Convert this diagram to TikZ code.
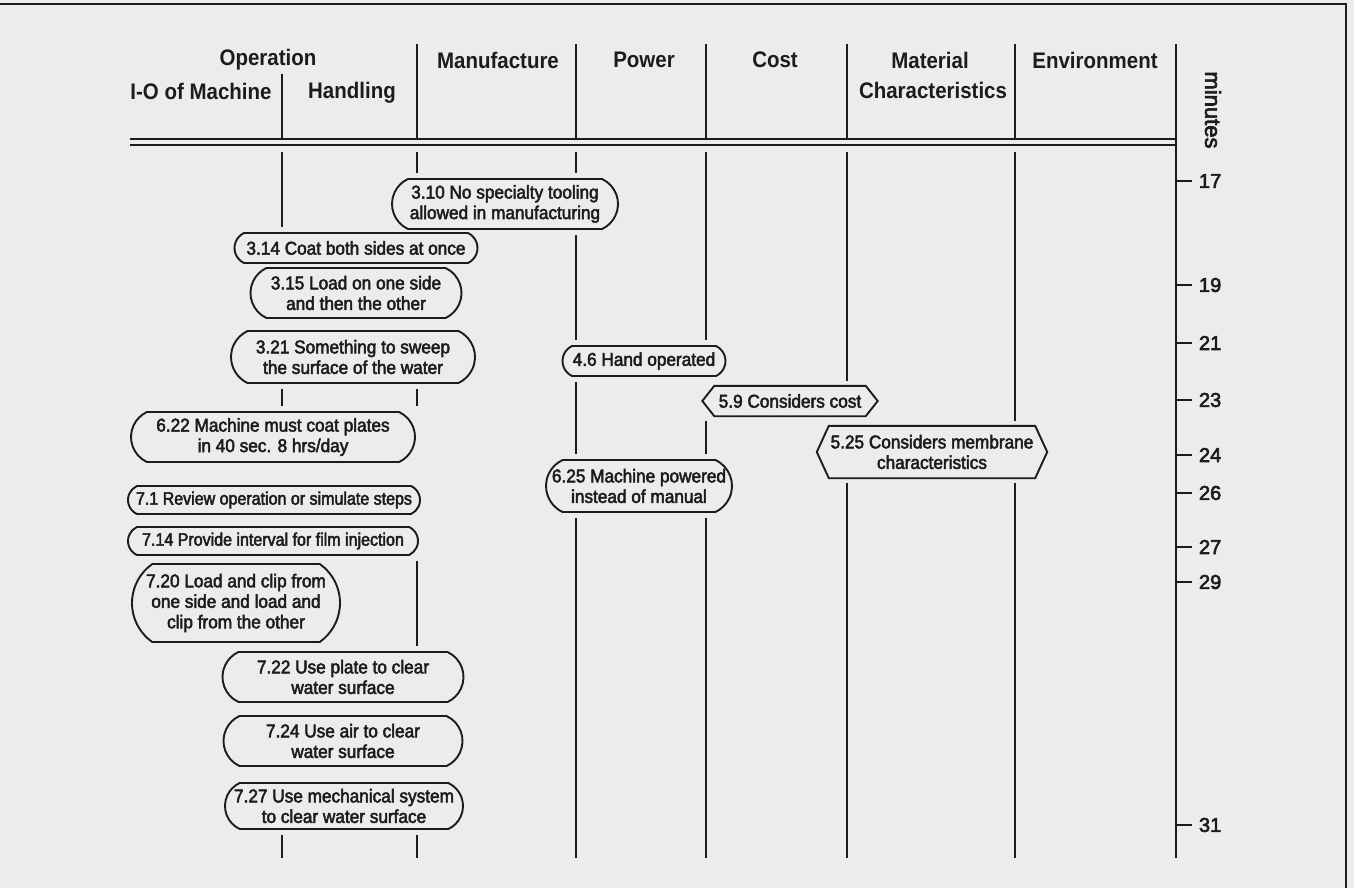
\documentclass[tikz,border=0pt]{standalone}
\usepackage{fontspec}
\setmainfont{Liberation Sans}
\newfontfamily\medfont{Liberation Sans}[FakeBold=2.6, FakeStretch=0.93]
\newfontfamily\narrowfont{Liberation Sans}[FakeBold=2.6, FakeStretch=0.89]
\newfontfamily\headfont{Liberation Sans}[FakeStretch=0.91]
\newfontfamily\numfont{Liberation Sans}[FakeBold=3]
\usetikzlibrary{shapes.misc}
\definecolor{ink}{RGB}{28,28,28}
\definecolor{paper}{RGB}{236,236,234}
\tikzset{
  box/.style={rounded rectangle, rounded rectangle arc length=130, draw=ink, line width=1.9pt,
    font=\medfont\fontsize{18.5}{20.5}\selectfont, align=center, inner sep=0pt, text=ink},
  narrowbox/.style={box, font=\narrowfont\fontsize{18}{20.5}\selectfont, inner xsep=-4pt},
  hexbox/.style={rectangle, inner sep=0pt, font=\medfont\fontsize{18.5}{20.5}\selectfont,
    align=center, text=ink},
  hexline/.style={draw=ink, line width=1.9pt, line join=miter},
  head/.style={font=\headfont\bfseries\fontsize{22.5}{26}\selectfont, text=ink, inner sep=0pt},
  colline/.style={draw=ink, line width=2pt},
  gapline/.style={colline, shorten <=5pt, shorten >=5pt},
  ticklab/.style={font=\numfont\fontsize{20}{22}\selectfont, text=ink, anchor=west, inner sep=0pt},
}
\begin{document}
\begin{tikzpicture}[x=1pt,y=-1pt]
\useasboundingbox (0,0) rectangle (1354,888);
\fill[paper] (0,0) rectangle (1354,888);
% frame
\coordinate (frTL) at (0,4);
\coordinate (frTR) at (1346,4);
\coordinate (frBR) at (1346,888);
\draw[draw=ink, line width=2.6pt] (frTL) -- (frTR) -- (frBR);

% headers
\node[head] (hOp) at (268,60) {Operation};
\node[head] (hMan) at (498,60) {Manufacture};
\node[head] (hPow) at (644,60) {Power};
\node[head] (hCost) at (775,60) {Cost};
\node[head] (hMat) at (930,60) {Material};
\node[head] (hChar) at (933,90) {Characteristics};
\node[head] (hEnv) at (1095,60) {Environment};
\node[head] (hIO) at (201,91) {I-O of Machine};
\node[head] (hHand) at (352,93) {Handling};
\node[font=\numfont\fontsize{22}{24}\selectfont, text=ink, rotate=-90, inner sep=0pt] (hMin) at (1213,110) {minutes};

% header column lines
\coordinate (hA1) at (282,74);  \coordinate (hA2) at (282,138);
\coordinate (hB1) at (417,44);  \coordinate (hB2) at (417,138);
\coordinate (hC1) at (576,44);  \coordinate (hC2) at (576,138);
\coordinate (hD1) at (706,44);  \coordinate (hD2) at (706,138);
\coordinate (hE1) at (847,44);  \coordinate (hE2) at (847,138);
\coordinate (hF1) at (1015,44); \coordinate (hF2) at (1015,138);
\coordinate (hG1) at (1176,44);
\foreach \a in {A,B,C,D,E,F} \draw[colline] (h\a1) -- (h\a2);

% double rule
\coordinate (dl1) at (130,139); \coordinate (dr1) at (1176,139);
\coordinate (dl2) at (130,145); \coordinate (dr2) at (1176,145);
\draw[colline] (dl1) -- (dr1);
\draw[colline] (dl2) -- (dr2);

% time axis
\coordinate (bG) at (1176,858);
\draw[colline] (hG1) -- (bG);
\foreach \t/\y in {17/181,19/285,21/343,23/400,24/455,26/493,27/547,29/582,31/825}{
  \coordinate (tk\t) at (1176,\y);
  \draw[colline] (tk\t) -- ++(16,0) node[ticklab, xshift=6pt] (lab\t) {\t};
}

% boxes
\node[box, minimum width=226, minimum height=50] (n310) at (505,204) {3.10 No specialty tooling\\allowed in manufacturing};
\node[box, minimum width=243, minimum height=30] (n314) at (356,248) {3.14 Coat both sides at once};
\node[box, minimum width=211, minimum height=50] (n315) at (356,293) {3.15 Load on one side\\and then the other};
\node[box, minimum width=244, minimum height=52] (n321) at (353,357) {3.21 Something to sweep\\the surface of the water};
\node[box, minimum width=163, minimum height=30] (n46) at (644,361) {4.6 Hand operated};
\node[hexbox, minimum width=151, minimum height=30] (n59) at (790,401) {5.9 Considers cost};
\node[box, minimum width=284, minimum height=50] (n622) at (273,437) {6.22 Machine must coat plates\\in 40 sec. 8 hrs/day};
\node[hexbox, minimum width=206, minimum height=52] (n525) at (932,452) {5.25 Considers membrane\\characteristics};
\node[box, minimum width=186, minimum height=52] (n625) at (639,486) {6.25 Machine powered\\instead of manual};
\node[narrowbox, minimum width=284, minimum height=28] (n71) at (274,500) {7.1 Review operation or simulate steps};
\node[narrowbox, minimum width=282, minimum height=28] (n714) at (273,541) {7.14 Provide interval for film injection};
\node[box, rounded rectangle arc length=110, minimum width=208, minimum height=78] (n720) at (236,603) {7.20 Load and clip from\\one side and load and\\clip from the other};
\node[box, minimum width=241, minimum height=50] (n722) at (343,677) {7.22 Use plate to clear\\water surface};
\node[box, minimum width=239, minimum height=50] (n724) at (343,741) {7.24 Use air to clear\\water surface};
\node[box, minimum width=238, minimum height=46] (n727) at (344,806) {7.27 Use mechanical system\\to clear water surface};

% hexagon outlines
\draw[hexline] (n59.north west) -- (n59.north east) -- ([xshift=12pt]n59.east) -- (n59.south east) -- (n59.south west) -- ([xshift=-12pt]n59.west) -- cycle;
\draw[hexline] (n525.north west) -- (n525.north east) -- ([xshift=12pt]n525.east) -- (n525.south east) -- (n525.south west) -- ([xshift=-12pt]n525.west) -- cycle;

% column connectors
\coordinate (tA) at (282,147); \coordinate (bA) at (282,858);
\coordinate (tB) at (417,147); \coordinate (bB) at (417,858);
\coordinate (tC) at (576,147); \coordinate (bC) at (576,858);
\coordinate (tD) at (706,147); \coordinate (bD) at (706,858);
\coordinate (tE) at (847,147); \coordinate (bE) at (847,858);
\coordinate (tF) at (1015,147); \coordinate (bF) at (1015,858);

\draw[gapline] (tA) -- (tA |- n314.north);
\draw[gapline] (n321.south -| tA) -- (n622.north -| tA);
\draw[gapline, shorten >=0pt] (n727.south -| tA) -- (bA);

\draw[gapline] (tB) -- (tB |- n310.north);
\draw[gapline] (n321.south -| tB) -- (n622.north -| tB);
\draw[gapline] (n714.south -| tB) -- (n722.north -| tB);
\draw[gapline, shorten >=0pt] (n727.south -| tB) -- (bB);

\draw[gapline] (tC) -- (tC |- n310.north);
\draw[gapline] (n310.south -| tC) -- (n46.north -| tC);
\draw[gapline] (n46.south -| tC) -- (n625.north -| tC);
\draw[gapline, shorten >=0pt] (n625.south -| tC) -- (bC);

\draw[gapline] (tD) -- (tD |- n46.north);
\draw[gapline] (n59.south -| tD) -- (n625.north -| tD);
\draw[gapline, shorten >=0pt] (n625.south -| tD) -- (bD);

\draw[gapline] (tE) -- (tE |- n59.north);
\draw[gapline, shorten >=0pt] (n525.south -| tE) -- (bE);

\draw[gapline] (tF) -- (tF |- n525.north);
\draw[gapline, shorten >=0pt] (n525.south -| tF) -- (bF);
\end{tikzpicture}
\end{document}
